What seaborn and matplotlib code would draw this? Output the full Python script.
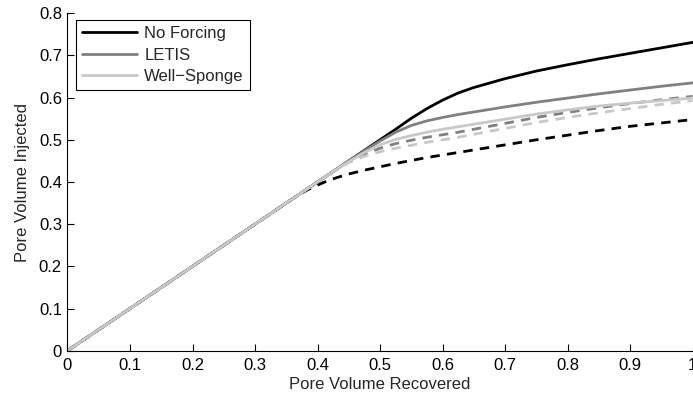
import matplotlib
matplotlib.use("Agg")
import matplotlib.pyplot as plt
import seaborn as sns
import pandas as pd

# Pore volume recovered (x) and injected (y) for each forcing scheme
x_recovered = [0.0, 0.37, 0.39, 0.41, 0.43, 0.45, 0.475, 0.5, 0.525, 0.55, 0.575,
               0.6, 0.625, 0.65, 0.7, 0.75, 0.8, 0.85, 0.9, 0.95, 1.0]

no_forcing = [0.0, 0.37, 0.39, 0.41, 0.43, 0.45, 0.475, 0.5, 0.525, 0.551, 0.574,
              0.594, 0.611, 0.624, 0.645, 0.663, 0.678, 0.692, 0.705, 0.718, 0.731]
letis = [0.0, 0.37, 0.39, 0.41, 0.43, 0.45, 0.474, 0.497, 0.518, 0.534, 0.545,
         0.553, 0.560, 0.566, 0.578, 0.589, 0.599, 0.609, 0.618, 0.627, 0.635]
well_sponge = [0.0, 0.37, 0.39, 0.41, 0.43, 0.448, 0.470, 0.488, 0.501, 0.510, 0.518,
               0.525, 0.531, 0.537, 0.549, 0.561, 0.571, 0.580, 0.587, 0.593, 0.599]

no_forcing_dashed = [0.0, 0.37, 0.386, 0.399, 0.410, 0.419, 0.428, 0.436, 0.444, 0.451, 0.458,
                     0.464, 0.470, 0.476, 0.488, 0.500, 0.511, 0.522, 0.532, 0.540, 0.548]
letis_dashed = [0.0, 0.37, 0.39, 0.41, 0.43, 0.448, 0.466, 0.480, 0.491, 0.499, 0.506,
                0.512, 0.518, 0.525, 0.539, 0.553, 0.565, 0.576, 0.586, 0.595, 0.603]
well_sponge_dashed = [0.0, 0.37, 0.39, 0.41, 0.43, 0.446, 0.461, 0.472, 0.480, 0.487, 0.494,
                      0.500, 0.506, 0.513, 0.527, 0.541, 0.553, 0.564, 0.574, 0.584, 0.593]

labels = ["No Forcing", "LETIS", "Well\u2212Sponge"]
colors = ["#000000", "#808080", "#c8c8c8"]

x_ticks = [0, 0.1, 0.2, 0.3, 0.4, 0.5, 0.6, 0.7, 0.8, 0.9, 1]
x_tick_labels = ["0", "0.1", "0.2", "0.3", "0.4", "0.5", "0.6", "0.7", "0.8", "0.9", "1"]
y_ticks = [0, 0.1, 0.2, 0.3, 0.4, 0.5, 0.6, 0.7, 0.8]
y_tick_labels = ["0", "0.1", "0.2", "0.3", "0.4", "0.5", "0.6", "0.7", "0.8"]

sns.set_style("ticks")
plt.rcParams["font.family"] = ["Liberation Sans", "DejaVu Sans"]
plt.rcParams["font.size"] = 12

fig = plt.figure(figsize=(6.93, 4.0), dpi=100)
ax = fig.add_axes([0.0974, 0.12325, 0.9019, 0.8435])

dashed_series = [no_forcing_dashed, letis_dashed, well_sponge_dashed]
solid_series = [no_forcing, letis, well_sponge]

# dashed runs first so the solid curves sit on top
for ys, c in zip(dashed_series, colors):
    df = pd.DataFrame({"x": x_recovered, "y": ys})
    sns.lineplot(data=df, x="x", y="y", ax=ax, color=c, linewidth=2,
                 linestyle=(0, (3.4, 2.6)), legend=False,
                 estimator=None, sort=False)

handles = []
for ys, c in zip(solid_series, colors):
    df = pd.DataFrame({"x": x_recovered, "y": ys})
    sns.lineplot(data=df, x="x", y="y", ax=ax, color=c, linewidth=2,
                 legend=False, estimator=None, sort=False)
    handles.append(ax.lines[-1])

ax.set_xlim(0, 1)
ax.set_ylim(0, 0.8)
ax.set_xticks(x_ticks)
ax.set_xticklabels(x_tick_labels)
ax.set_yticks(y_ticks)
ax.set_yticklabels(y_tick_labels)
ax.tick_params(direction="in", length=5, width=0.8, colors="black", labelsize=12)
ax.tick_params(axis="x", pad=5)
ax.tick_params(axis="y", pad=4)
ax.set_xlabel("Pore Volume Recovered", fontsize=12)
ax.set_ylabel("Pore Volume Injected", fontsize=12)
ax.xaxis.set_label_coords(0.5, -0.077)
ax.yaxis.set_label_coords(-0.06, 0.5)

for side in ["top", "right"]:
    ax.spines[side].set_visible(False)
for side in ["left", "bottom"]:
    ax.spines[side].set_color("black")
    ax.spines[side].set_linewidth(0.8)

leg = ax.legend(handles, labels, loc="upper left", bbox_to_anchor=(0.0136, 0.980),
                fancybox=False, framealpha=1, edgecolor="black", handlelength=3.3,
                handletextpad=0.45, borderpad=0.35, labelspacing=0.4, fontsize=12,
                borderaxespad=0)
leg.get_frame().set_linewidth(0.8)

fig.savefig("out.png", dpi=100)
